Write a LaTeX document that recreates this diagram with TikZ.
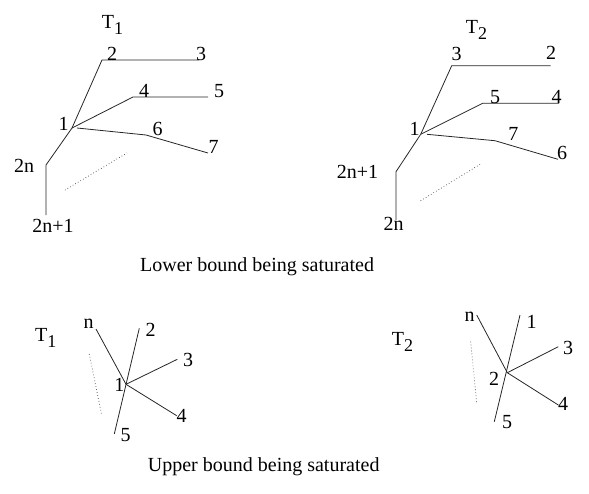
\documentclass[tikz,border=0pt]{standalone}
\usepackage{fontspec}
\setmainfont{Liberation Serif}
\newcommand{\Tsub}[1]{T\raisebox{-6pt}{\fontsize{18}{18}\selectfont #1}}
\tikzset{
  edge/.style={line width=0.8pt, black!85},
  dots/.style={line width=0.8pt, dash pattern=on 0.6pt off 2.4pt, black!75},
  lab/.style={inner sep=0pt, anchor=base, font=\fontsize{20}{24}\selectfont},
  ttl/.style={inner sep=0pt, anchor=base west, font=\fontsize{20}{24}\selectfont},
}
\begin{document}
\begin{tikzpicture}[x=1pt, y=-1pt]
\useasboundingbox (0,0) rectangle (589,493);

% ---------- Tree T1 (top left) ----------
\coordinate (a1) at (72,128);
\coordinate (a1s) at (77,128);
\coordinate (a2) at (102,60);
\coordinate (a3) at (199,60);
\coordinate (a4) at (133,97);
\coordinate (a5) at (208,97);
\coordinate (a6) at (146,135);
\coordinate (a7) at (208,153);
\coordinate (a2n) at (46,165);
\coordinate (a2n1) at (46,215);
\coordinate (ad1) at (65,190);
\coordinate (ad2) at (127,153);
\draw[edge] (a1) -- (a2) -- (a3);
\draw[edge] (a1) -- (a4) -- (a5);
\draw[edge] (a1s) -- (a6) -- (a7);
\draw[edge] (a1) -- (a2n) -- (a2n1);
\draw[dots] (ad1) -- (ad2);
\node[ttl] (aT) at (101.7,28.3) {\Tsub{1}};
\node[lab] (al2) at (112,60) {2};
\node[lab] (al3) at (201,60) {3};
\node[lab] (al4) at (144,97) {4};
\node[lab] (al5) at (219,97) {5};
\node[lab] (al1) at (63.5,130) {1};
\node[lab] (al6) at (157.5,135) {6};
\node[lab] (al7) at (213.5,153) {7};
\node[lab] (al2n) at (24,172) {2n};
\node[lab] (al2n1) at (53,232) {2n+1};

% ---------- Tree T2 (top right) ----------
\coordinate (b1) at (420.7,134.3);
\coordinate (b1s) at (427,134.3);
\coordinate (b3) at (451.7,65.7);
\coordinate (b2) at (550.7,65.7);
\coordinate (b5) at (482.7,103.3);
\coordinate (b4) at (559,103.3);
\coordinate (b7) at (495,140.7);
\coordinate (b6) at (558,159.3);
\coordinate (b2n1) at (396,171.7);
\coordinate (b2n) at (396,220);
\coordinate (bd1) at (420.7,200.7);
\coordinate (bd2) at (481.7,163.3);
\draw[edge] (b1) -- (b3) -- (b2);
\draw[edge] (b1) -- (b5) -- (b4);
\draw[edge] (b1s) -- (b7) -- (b6);
\draw[edge] (b1) -- (b2n1) -- (b2n);
\draw[dots] (bd1) -- (bd2);
\node[ttl] (bT) at (465.7,33.3) {\Tsub{2}};
\node[lab] (bl3) at (456.7,60) {3};
\node[lab] (bl2) at (551,59.3) {2};
\node[lab] (bl5) at (495,103.3) {5};
\node[lab] (bl4) at (556.7,103.3) {4};
\node[lab] (bl1) at (414.7,135) {1};
\node[lab] (bl7) at (513.3,140.7) {7};
\node[lab] (bl6) at (562,159.3) {6};
\node[lab] (bl2n1) at (357.5,178.3) {2n+1};
\node[lab] (bl2n) at (393.7,230) {2n};

\node[ttl] (capA) at (140,271.5) {Lower bound being saturated};

% ---------- Star T1 (bottom left) ----------
\coordinate (c0) at (126,384.3);
\coordinate (cn) at (96,329);
\coordinate (c2) at (139.3,328.3);
\coordinate (c5) at (114.3,434);
\coordinate (c3) at (177.3,359.3);
\coordinate (c4) at (176.7,415.7);
\coordinate (cd1) at (89.3,354);
\coordinate (cd2) at (101.7,415);
\draw[edge] (cn) -- (c0);
\draw[edge] (c2) -- (c5);
\draw[edge] (c0) -- (c3);
\draw[edge] (c0) -- (c4);
\draw[dots] (cd1) -- (cd2);
\node[ttl] (cT) at (35,341.7) {\Tsub{1}};
\node[lab] (cln) at (88.7,328.3) {n};
\node[lab] (cl2) at (150.5,336) {2};
\node[lab] (cl3) at (188,366.7) {3};
\node[lab] (cl1) at (119.3,391.7) {1};
\node[lab] (cl4) at (181.7,422.7) {4};
\node[lab] (cl5) at (125.5,441.7) {5};

% ---------- Star T2 (bottom right) ----------
\coordinate (d0) at (507.3,372.7);
\coordinate (dn) at (476.7,315);
\coordinate (d1) at (520,315);
\coordinate (d5) at (494.3,421.7);
\coordinate (d3) at (558.3,346.7);
\coordinate (d4) at (558.3,405);
\coordinate (dd1) at (470.7,341.7);
\coordinate (dd2) at (476.7,403.3);
\draw[edge] (dn) -- (d0);
\draw[edge] (d1) -- (d5);
\draw[edge] (d0) -- (d3);
\draw[edge] (d0) -- (d4);
\draw[dots] (dd1) -- (dd2);
\node[ttl] (dT) at (391.7,345) {\Tsub{2}};
\node[lab] (dln) at (469.5,321.7) {n};
\node[lab] (dl1) at (531.7,328.3) {1};
\node[lab] (dl3) at (568,354) {3};
\node[lab] (dl2) at (494.2,385) {2};
\node[lab] (dl4) at (563,410.7) {4};
\node[lab] (dl5) at (507.2,428.3) {5};

\node[ttl] (capB) at (147.7,471.5) {Upper bound being saturated};
\end{tikzpicture}
\end{document}
